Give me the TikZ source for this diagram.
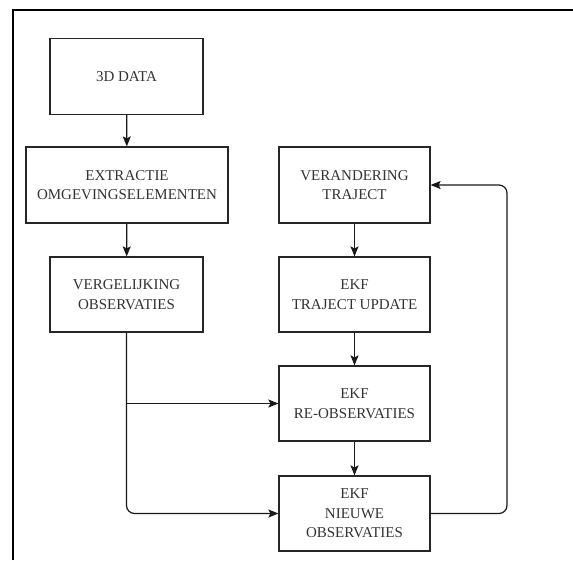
\documentclass[tikz,border=0pt]{standalone}
\usepackage{fontspec}
\setmainfont{Liberation Serif}
\usetikzlibrary{arrows.meta}
\begin{document}
\begin{tikzpicture}[x=1pt,y=-1pt,
  stepbox/.style={draw=black!85,line width=1.2pt,minimum width=#1,minimum height=76pt,inner sep=0pt,align=center,
    font=\fontsize{15}{19.5}\selectfont,text=black!80},
  stepbox/.default=153pt,
  flow/.style={draw=black!90,line width=1.2pt,-{Stealth[length=10pt,width=8pt,inset=2pt]}},
  frameline/.style={draw=black,line width=2pt}]
\useasboundingbox (0,0) rectangle (573,560);
\draw[frameline] (13,560) -- (13,9.5) -- (573,9.5);
\node[stepbox] (data) at (126.5,76.5) {3D DATA};
\node[stepbox=202pt] (extr) at (127,185) {EXTRACTIE\\OMGEVINGSELEMENTEN};
\node[stepbox,minimum height=75pt] (verg) at (126.5,294.5) {VERGELIJKING\\OBSERVATIES};
\node[stepbox=151pt] (verand) at (354.5,185) {VERANDERING\\TRAJECT};
\node[stepbox=151pt,minimum height=75pt] (ekfa) at (354.5,294.5) {EKF\\TRAJECT UPDATE};
\node[stepbox=151pt,minimum height=75pt] (ekfb) at (354.5,403.5) {EKF\\RE-OBSERVATIES};
\node[stepbox=151pt,minimum height=75pt] (ekfc) at (354.5,513.5) {EKF\\NIEUWE\\OBSERVATIES};
\coordinate (branch) at (verg.south |- ekfb.west);
\coordinate (fb) at (507,185);
\draw[flow] (data) -- (extr);
\draw[flow] (extr) -- (verg);
\draw[flow] (verand) -- (ekfa);
\draw[flow] (ekfa) -- (ekfb);
\draw[flow] (ekfb) -- (ekfc);
\draw[flow,rounded corners=8pt] (verg.south) |- (ekfc.west);
\draw[flow] (branch) -- (ekfb.west);
\draw[flow,rounded corners=8pt] (ekfc.east) -| (fb) -- (verand.east);
\end{tikzpicture}
\end{document}
